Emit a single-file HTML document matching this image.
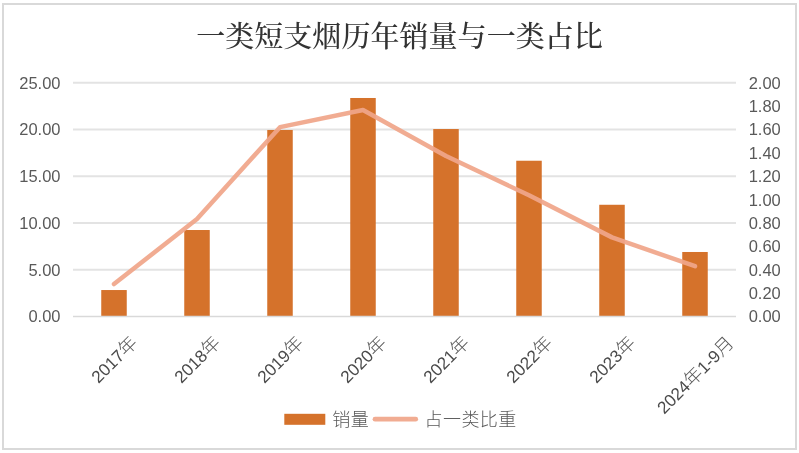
<!DOCTYPE html>
<html lang="zh-CN"><head><meta charset="utf-8"><title>一类短支烟历年销量与一类占比</title>
<style>html,body{margin:0;padding:0;background:#fff;}body{width:799px;height:453px;overflow:hidden;}svg{display:block;}</style>
</head><body>
<svg width="799" height="453" viewBox="0 0 799 453">
<rect x="0" y="0" width="799" height="453" fill="#ffffff"/>
<rect x="3" y="4" width="793" height="445" fill="none" stroke="#d9d9d9" stroke-width="2"/>
<line x1="73" x2="736" y1="269.75" y2="269.75" stroke="#e3e3e3" stroke-width="1.8"/>
<line x1="73" x2="736" y1="223.00" y2="223.00" stroke="#e3e3e3" stroke-width="1.8"/>
<line x1="73" x2="736" y1="176.25" y2="176.25" stroke="#e3e3e3" stroke-width="1.8"/>
<line x1="73" x2="736" y1="129.50" y2="129.50" stroke="#e3e3e3" stroke-width="1.8"/>
<line x1="73" x2="736" y1="82.75" y2="82.75" stroke="#e3e3e3" stroke-width="1.8"/>
<rect x="101.25" y="290.04" width="25.5" height="26.46" fill="#d5722b"/>
<rect x="184.25" y="230.01" width="25.5" height="86.49" fill="#d5722b"/>
<rect x="267.25" y="129.97" width="25.5" height="186.53" fill="#d5722b"/>
<rect x="350.25" y="97.99" width="25.5" height="218.51" fill="#d5722b"/>
<rect x="433.25" y="129.03" width="25.5" height="187.47" fill="#d5722b"/>
<rect x="516.25" y="160.73" width="25.5" height="155.77" fill="#d5722b"/>
<rect x="599.25" y="204.77" width="25.5" height="111.73" fill="#d5722b"/>
<rect x="682.25" y="251.99" width="25.5" height="64.51" fill="#d5722b"/>
<line x1="73" x2="736" y1="316.50" y2="316.50" stroke="#d9d9d9" stroke-width="1.5"/>
<polyline points="114.00,284.01 197.00,219.03 280.00,127.16 363.00,109.98 446.00,156.03 529.00,195.30 612.00,237.38 695.00,266.24" fill="none" stroke="#f0a68a" stroke-width="4.5" stroke-opacity="0.93" stroke-linecap="round" stroke-linejoin="round"/>
<text x="60.5" y="322.40" text-anchor="end" font-family='"Liberation Sans","Noto Sans CJK SC",sans-serif' font-size="16.5" fill="#595959">0.00</text>
<text x="60.5" y="275.65" text-anchor="end" font-family='"Liberation Sans","Noto Sans CJK SC",sans-serif' font-size="16.5" fill="#595959">5.00</text>
<text x="60.5" y="228.90" text-anchor="end" font-family='"Liberation Sans","Noto Sans CJK SC",sans-serif' font-size="16.5" fill="#595959">10.00</text>
<text x="60.5" y="182.15" text-anchor="end" font-family='"Liberation Sans","Noto Sans CJK SC",sans-serif' font-size="16.5" fill="#595959">15.00</text>
<text x="60.5" y="135.40" text-anchor="end" font-family='"Liberation Sans","Noto Sans CJK SC",sans-serif' font-size="16.5" fill="#595959">20.00</text>
<text x="60.5" y="88.65" text-anchor="end" font-family='"Liberation Sans","Noto Sans CJK SC",sans-serif' font-size="16.5" fill="#595959">25.00</text>
<text x="748.7" y="322.40" font-family='"Liberation Sans","Noto Sans CJK SC",sans-serif' font-size="16.5" fill="#595959">0.00</text>
<text x="748.7" y="299.02" font-family='"Liberation Sans","Noto Sans CJK SC",sans-serif' font-size="16.5" fill="#595959">0.20</text>
<text x="748.7" y="275.65" font-family='"Liberation Sans","Noto Sans CJK SC",sans-serif' font-size="16.5" fill="#595959">0.40</text>
<text x="748.7" y="252.28" font-family='"Liberation Sans","Noto Sans CJK SC",sans-serif' font-size="16.5" fill="#595959">0.60</text>
<text x="748.7" y="228.90" font-family='"Liberation Sans","Noto Sans CJK SC",sans-serif' font-size="16.5" fill="#595959">0.80</text>
<text x="748.7" y="205.53" font-family='"Liberation Sans","Noto Sans CJK SC",sans-serif' font-size="16.5" fill="#595959">1.00</text>
<text x="748.7" y="182.15" font-family='"Liberation Sans","Noto Sans CJK SC",sans-serif' font-size="16.5" fill="#595959">1.20</text>
<text x="748.7" y="158.77" font-family='"Liberation Sans","Noto Sans CJK SC",sans-serif' font-size="16.5" fill="#595959">1.40</text>
<text x="748.7" y="135.40" font-family='"Liberation Sans","Noto Sans CJK SC",sans-serif' font-size="16.5" fill="#595959">1.60</text>
<text x="748.7" y="112.03" font-family='"Liberation Sans","Noto Sans CJK SC",sans-serif' font-size="16.5" fill="#595959">1.80</text>
<text x="748.7" y="88.65" font-family='"Liberation Sans","Noto Sans CJK SC",sans-serif' font-size="16.5" fill="#595959">2.00</text>
<text transform="translate(118.50,364.00) rotate(-45)" text-anchor="middle" font-family='"Liberation Sans","Noto Sans CJK SC",sans-serif' fill="#595959"><tspan font-size="17.2" fill="#4a4a4a">2017</tspan><tspan font-size="18.4" font-weight="300">年</tspan></text>
<text transform="translate(201.50,364.00) rotate(-45)" text-anchor="middle" font-family='"Liberation Sans","Noto Sans CJK SC",sans-serif' fill="#595959"><tspan font-size="17.2" fill="#4a4a4a">2018</tspan><tspan font-size="18.4" font-weight="300">年</tspan></text>
<text transform="translate(284.50,364.00) rotate(-45)" text-anchor="middle" font-family='"Liberation Sans","Noto Sans CJK SC",sans-serif' fill="#595959"><tspan font-size="17.2" fill="#4a4a4a">2019</tspan><tspan font-size="18.4" font-weight="300">年</tspan></text>
<text transform="translate(367.50,364.00) rotate(-45)" text-anchor="middle" font-family='"Liberation Sans","Noto Sans CJK SC",sans-serif' fill="#595959"><tspan font-size="17.2" fill="#4a4a4a">2020</tspan><tspan font-size="18.4" font-weight="300">年</tspan></text>
<text transform="translate(450.50,364.00) rotate(-45)" text-anchor="middle" font-family='"Liberation Sans","Noto Sans CJK SC",sans-serif' fill="#595959"><tspan font-size="17.2" fill="#4a4a4a">2021</tspan><tspan font-size="18.4" font-weight="300">年</tspan></text>
<text transform="translate(533.50,364.00) rotate(-45)" text-anchor="middle" font-family='"Liberation Sans","Noto Sans CJK SC",sans-serif' fill="#595959"><tspan font-size="17.2" fill="#4a4a4a">2022</tspan><tspan font-size="18.4" font-weight="300">年</tspan></text>
<text transform="translate(616.50,364.00) rotate(-45)" text-anchor="middle" font-family='"Liberation Sans","Noto Sans CJK SC",sans-serif' fill="#595959"><tspan font-size="17.2" fill="#4a4a4a">2023</tspan><tspan font-size="18.4" font-weight="300">年</tspan></text>
<text transform="translate(699.50,379.50) rotate(-45)" text-anchor="middle" font-family='"Liberation Sans","Noto Sans CJK SC",sans-serif' fill="#595959"><tspan font-size="17.2" fill="#4a4a4a">2024</tspan><tspan font-size="18.4" font-weight="300">年</tspan><tspan font-size="17.2" fill="#4a4a4a">1-9</tspan><tspan font-size="18.4" font-weight="300">月</tspan></text>
<text x="399.5" y="46.5" text-anchor="middle" font-family='"Liberation Serif","Noto Serif CJK SC",serif' font-size="29.05" font-weight="500" fill="#333333">一类短支烟历年销量与一类占比</text>
<rect x="284.3" y="413.8" width="41" height="11" fill="#d5722b"/>
<text x="332.3" y="425.9" font-family='"Liberation Sans","Noto Sans CJK SC",sans-serif' font-size="18" font-weight="300" letter-spacing="0.4" fill="#595959">销量</text>
<line x1="375" x2="415.7" y1="419.2" y2="419.2" stroke="#f0a68a" stroke-width="4.8" stroke-opacity="0.93" stroke-linecap="round"/>
<text x="424.6" y="425.9" font-family='"Liberation Sans","Noto Sans CJK SC",sans-serif' font-size="18" font-weight="300" letter-spacing="0.4" fill="#595959">占一类比重</text>
</svg>
</body></html>
